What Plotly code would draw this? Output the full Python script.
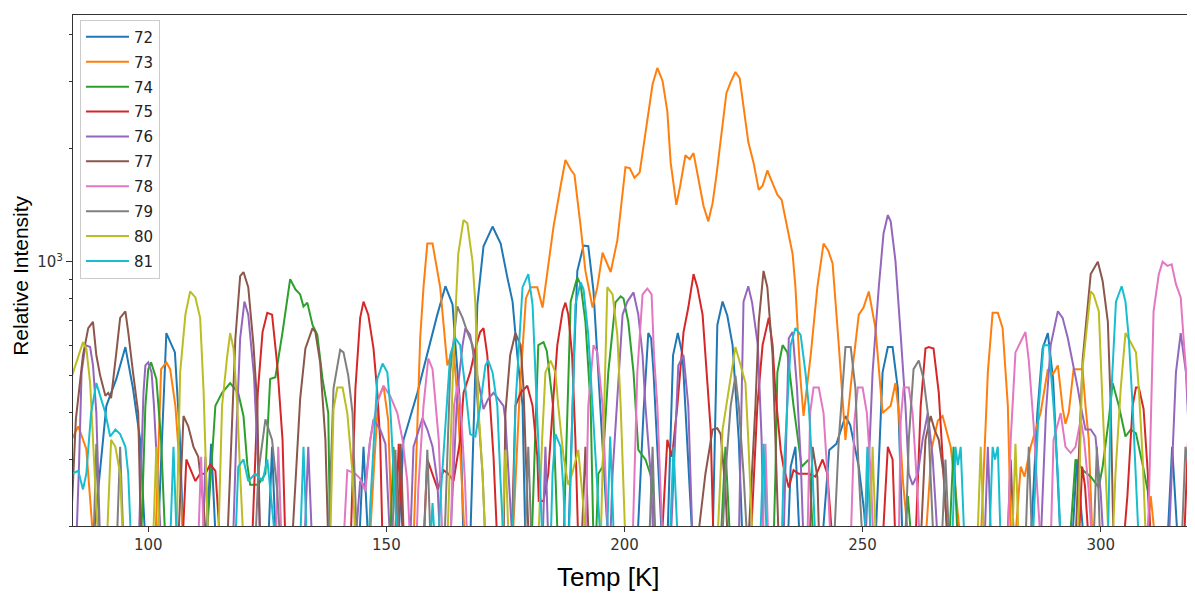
import math
import plotly.graph_objects as go

# ---- data: (temperature [K], relative intensity) ----
s72 = [(84, 180), (88.4, 180), (91.2, 416), (93.3, 490), (95.2, 595), (96.8, 462), (98.3, 338), (99.4, 180),
       (102, 180), (103.8, 648), (105.6, 576), (106.6, 350), (107.4, 180),
       (112.2, 180), (113.2, 330), (114.2, 180),
       (125.2, 180), (126, 324), (126.8, 180),
       (144.3, 180), (145.2, 324), (146.2, 180),
       (152.5, 180), (153.6, 338), (156.5, 450), (159.2, 613), (160.7, 725), (162.4, 862), (163.9, 771), (164.5, 602), (165.5, 416), (166.2, 180),
       (167.6, 180), (169.1, 771), (170.4, 1100), (172.3, 1240), (174, 1118), (175.4, 910), (176.5, 785), (177.5, 566), (178.6, 416), (179.2, 180),
       (188.2, 180), (189.5, 600), (190.1, 946), (191.4, 1104), (192.4, 1100), (193.5, 835), (194.5, 500), (196, 250), (196.6, 180),
       (202.7, 180), (204, 400), (205, 648), (205.6, 628), (206.1, 510), (207.9, 180),
       (209, 180), (210.2, 566), (211.2, 648), (212.2, 566), (214.3, 180),
       (218.5, 180), (219.5, 681), (220.6, 785), (221.6, 720), (222.7, 602), (224, 338), (224.8, 180),
       (234.3, 180), (234.9, 287), (235.9, 324), (236.8, 180),
       (241.5, 180), (243, 318), (244.5, 330), (246.4, 391), (247.4, 370), (249.2, 287), (250.3, 220), (250.8, 180),
       (252.7, 180), (254.2, 510), (255.3, 595), (256.3, 595), (257.4, 462), (258.4, 180),
       (285.3, 180), (286.7, 400), (287.8, 590), (288.9, 648), (290, 490), (291, 280), (291.6, 180),
       (294, 180), (295, 300), (296.5, 180),
       (314, 180), (315, 324), (316.2, 180),
       (318.5, 180), (320, 330)]

s73 = [(84, 340), (85.3, 367), (87, 320), (88.5, 180),
       (101.5, 180), (102.7, 520), (103.8, 542), (104.6, 520), (105.7, 416), (106.7, 275), (107.3, 180),
       (146.5, 180), (147.5, 300), (148.3, 434), (149.4, 470), (150.4, 380), (151.2, 180),
       (155.7, 180), (157.1, 628), (157.8, 857), (158.6, 1118), (159.7, 1118), (161.3, 857), (162.8, 532), (164.1, 590), (165, 420), (166.5, 180),
       (176.5, 180), (178, 450), (179.3, 800), (180.3, 857), (181.7, 857), (182.8, 757), (185.1, 1240), (186.6, 1590),
       (187.6, 1860), (188.7, 1755), (189.5, 1700), (190.8, 1240), (191.8, 946), (193.3, 757), (194.3, 857), (195.4, 1057),
       (197.1, 940), (198.5, 1140), (200.2, 1780), (201.1, 1770), (202.1, 1670), (203.2, 1725), (204.4, 2170), (205.9, 2950),
       (206.9, 3260), (208, 3010), (209, 2500), (209.7, 1830), (210.9, 1415), (211.7, 1590), (212.8, 1915), (213.7, 1870),
       (214.5, 1940), (215.5, 1650), (216.6, 1405), (217.6, 1280), (218.5, 1430), (219.3, 1690), (220.6, 2300), (221.4, 2795),
       (222.3, 2990), (223.3, 3180), (224.2, 3060), (225, 2550), (226, 2075), (227.1, 1830), (228.2, 1550), (229, 1590),
       (230, 1745), (231.3, 1590), (232.1, 1505), (233, 1460), (234.2, 1240), (235.3, 1050), (235.9, 857), (236.3, 681),
       (236.9, 500), (237.6, 391), (239.1, 566), (240.5, 857), (241.8, 1118), (242.8, 1070), (243.7, 990), (245, 602),
       (246.4, 338), (247.8, 510), (249.2, 725), (250.2, 757), (251.3, 835), (252.7, 668), (254.2, 398), (255.9, 416),
       (256.9, 478), (257.6, 400), (258.5, 260), (259.7, 180),
       (263.2, 180), (264.5, 320), (265.8, 380), (266.8, 391), (268.5, 324), (269.5, 250), (270.6, 180),
       (274.8, 180), (276.3, 510), (277.3, 733), (278.4, 733), (279.4, 668), (280.5, 416), (281.2, 180),
       (282, 180), (283.2, 287), (284, 270), (285.3, 324), (286.7, 373), (287.4, 400), (288.9, 520), (290, 505), (291, 532),
       (292, 410), (292.6, 373), (293.3, 400), (294.3, 520), (296.2, 520), (296.8, 416), (297.5, 338), (298.3, 180),
       (309.5, 180), (310.5, 240), (311.5, 180), (320, 180)]

s74 = [(84, 180), (98.5, 180), (99.4, 416), (100, 520), (100.6, 542), (101.7, 490), (102.7, 338), (103.6, 180),
       (112.2, 180), (114.1, 416), (115.5, 450), (117.2, 478), (118.9, 450), (120, 391), (120.8, 291), (121.4, 257),
       (123.1, 257), (124.6, 275), (125.6, 490), (126.7, 495), (128.2, 652), (129.8, 900), (130.9, 846), (131.9, 820),
       (132.6, 762), (133.4, 780), (134.5, 681), (135.5, 641), (136.6, 490), (137.8, 398), (138.2, 180),
       (150.8, 180), (151.5, 324), (152.3, 180),
       (180.5, 180), (180.9, 250), (181.9, 602), (183, 613), (183.7, 580), (185, 416), (186, 180),
       (187.2, 180), (188.7, 785), (190.1, 910), (190.8, 870), (191.8, 694), (192.9, 416), (193.5, 180),
       (194, 180), (194.5, 275), (195.4, 287), (196.6, 510), (198.1, 781), (199.2, 810), (199.8, 800), (200.8, 694),
       (201.9, 510), (202.9, 318), (204.4, 300), (205.9, 263), (206.5, 180),
       (220.2, 180), (221.2, 324), (222.2, 180),
       (231.3, 180), (231.7, 275), (232.1, 510), (233.2, 602), (234.2, 576), (235.5, 416), (236.6, 324), (237.2, 287),
       (238.7, 300), (239.7, 180),
       (258.8, 180), (259.5, 240), (260.3, 180),
       (268.2, 180), (269.1, 324), (270, 180),
       (293.5, 180), (294.7, 300), (296.4, 280), (297.9, 270), (299.6, 253), (300.4, 287), (301.7, 383), (302.5, 478),
       (303.8, 416), (305.2, 345), (306.3, 360), (307.4, 352), (308.8, 291), (309.9, 247), (310.5, 180), (320, 180)]

s75 = [(84, 180), (107.2, 180), (108, 300), (109.9, 263), (110.9, 275), (112, 275), (113, 291), (114.1, 280), (115.1, 180),
       (121.8, 180), (123, 450), (124, 652), (125, 733), (126, 725), (127.1, 532), (128.2, 338), (128.8, 180),
       (142.5, 180), (143.5, 462), (144.5, 711), (145.2, 785), (146.2, 725), (147.3, 590), (148.1, 450), (148.7, 338), (149.2, 180),
       (151.8, 180), (152.6, 330), (153.5, 180),
       (157.8, 180), (158.6, 300), (159.7, 275), (160.8, 250), (162, 281), (163, 275), (164.1, 263), (165.5, 338),
       (166.2, 450), (167.6, 510), (168.7, 590), (169.7, 652), (170.4, 668), (171.2, 566), (171.8, 416), (172.5, 305), (173.3, 180),
       (176.3, 180), (177.1, 416), (178.2, 450), (179.6, 470), (180.7, 416), (181.7, 305), (182, 233), (183, 233), (184, 275),
       (185.1, 442), (185.9, 602), (187, 740), (187.6, 780), (188.2, 725), (189, 566), (189.7, 338), (190.3, 180),
       (207.8, 180), (209, 338), (210, 305), (211.1, 416), (212.4, 652), (213.4, 757), (214.5, 928), (215.3, 857),
       (216.4, 725), (217, 553), (218.1, 360), (218.7, 180),
       (226.5, 180), (227.9, 416), (229, 602), (230.3, 711), (231.1, 602), (231.7, 450), (232.8, 318), (233.4, 287),
       (234.5, 253), (235.5, 281), (236.6, 275), (237.4, 275), (238.7, 275), (240.1, 270), (241.6, 300), (242.6, 275), (243.7, 180),
       (254.2, 180), (255.3, 324), (256.3, 300), (256.9, 180),
       (261.1, 180), (262.2, 416), (263.2, 590), (263.9, 595), (264.9, 590), (266, 450), (267, 275), (267.9, 180),
       (295.4, 180), (296.1, 287), (296.7, 255), (297.5, 180),
       (304.8, 180), (305.6, 240), (306.7, 416), (307.4, 465), (308, 465), (309, 408), (309.9, 275), (310.5, 180),
       (317.5, 180), (318.8, 450), (319.3, 694), (320, 760)]

s76 = [(84, 180), (84.9, 180), (85.5, 300), (86, 510), (86.8, 602), (87.8, 595), (88.4, 532), (89.1, 398), (89.9, 180),
       (98, 180), (99, 450), (99.4, 532), (100, 542), (100.7, 510), (101.2, 416), (102, 275), (102.7, 180),
       (111.5, 180), (112, 305), (112.6, 180),
       (117.8, 180), (118.5, 350), (119.3, 628), (120.2, 785), (121, 725), (122.2, 500), (123, 305), (123.5, 180),
       (132.8, 180), (133.6, 324), (134.4, 180),
       (143.5, 180), (144.5, 263), (145.6, 255), (146.5, 330), (147.3, 383), (148.7, 360), (149.8, 330), (150.8, 180),
       (155, 180), (155.7, 324), (157.6, 386), (158.6, 360), (159.7, 324), (160.7, 263), (161.3, 180),
       (163.4, 180), (164.9, 450), (166, 602), (166.6, 668), (167.6, 641), (168.7, 532), (169.7, 450), (170.4, 408),
       (171.4, 434), (172.5, 450), (173.5, 434), (174.6, 416), (175, 380), (175.6, 275), (176.5, 180),
       (182.8, 180), (183.4, 324), (184, 180),
       (197, 180), (197.5, 275), (198.5, 450), (199.6, 725), (200.6, 785), (201.9, 830), (202.9, 725), (203.8, 566),
       (204.4, 416), (205.5, 275), (206.1, 180),
       (209.7, 180), (211.3, 532), (212.4, 566), (213.4, 416), (214.3, 180),
       (224, 180), (225, 785), (226, 862), (226.8, 780), (228, 602), (228.8, 338), (229.2, 180),
       (233.4, 180), (234.5, 628), (235.3, 652), (236.2, 470), (237, 300), (237.6, 180),
       (250.6, 180), (252.1, 510), (253.4, 857), (254.4, 1189), (255.3, 1330), (255.9, 1280), (256.9, 1006), (258, 641),
       (259, 416), (259.7, 275), (260.5, 257), (261.6, 275), (262.6, 338), (263.7, 398), (264.7, 305), (265.3, 230), (265.8, 180),
       (275.6, 180), (276.3, 324), (277, 180),
       (287.4, 180), (288.5, 400), (289.5, 602), (291, 740), (292, 711), (293.1, 628), (294.1, 548), (295.2, 462),
       (295.8, 416), (296.8, 360), (297.9, 360), (298.9, 345), (300, 245), (300.6, 180),
       (314.3, 180), (315.8, 510), (316.8, 648), (317.9, 510), (318.9, 275), (319.5, 180), (320, 180)]

s77 = [(84, 230), (84.8, 383), (86.3, 566), (87.4, 668), (88.4, 694), (89.1, 566), (89.9, 500), (91, 442), (91.6, 450),
       (92.2, 436), (93.3, 576), (94.1, 711), (95.2, 740), (95.8, 652), (96.8, 510), (97.9, 398), (98.5, 180),
       (106.3, 180), (107.4, 391), (108.4, 367), (109.5, 324), (110.5, 305), (111.6, 228), (112.2, 180),
       (116.6, 180), (118.3, 628), (119.3, 917), (120, 940), (121, 857), (122.1, 602), (122.9, 416), (123.5, 180),
       (130.2, 180), (131.9, 434), (133, 590), (134.5, 668), (135.1, 652), (136.1, 542), (137.2, 338), (137.8, 180),
       (152.3, 180), (153, 330), (153.7, 180),
       (174.6, 180), (175, 398), (176, 566), (177.1, 648), (178.2, 602), (178.8, 462), (179.6, 224), (179.9, 180),
       (191, 180), (191.8, 324), (192.5, 180),
       (215.3, 180), (217, 275), (218.5, 360), (219.5, 363), (220.2, 350), (221.2, 250), (221.7, 180),
       (226, 180), (227.5, 416), (228.2, 694), (229.2, 946), (230, 857), (231.1, 566), (231.7, 338), (232.4, 180),
       (238.9, 180), (239.5, 324), (240.5, 270), (240.9, 180),
       (262.2, 180), (263.2, 338), (264.3, 391), (265.1, 360), (266, 338), (267, 275), (267.9, 180),
       (280.4, 180), (281.1, 300), (281.8, 180),
       (294.7, 180), (295.8, 416), (296.2, 550), (297.9, 928), (299.4, 1000), (300.4, 890), (301.5, 694), (302.1, 416),
       (302.7, 180), (320, 180)]

s78 = [(84, 180), (110.5, 180), (111.1, 305), (111.7, 180),
       (126.8, 180), (127.3, 324), (128, 180),
       (141, 180), (141.8, 281), (143.5, 275), (144.5, 267), (145.6, 247), (146.6, 338), (148.1, 424), (149.4, 470),
       (150.8, 442), (152.3, 398), (153.4, 338), (154.4, 263), (155, 180),
       (156.3, 180), (156.7, 250), (157.8, 416), (158.8, 555), (159.7, 520), (160.3, 416), (161, 338), (161.8, 180),
       (163.5, 180), (164.2, 416), (164.9, 470), (165.6, 416), (166.5, 263), (167, 180),
       (191.8, 180), (192.4, 416), (193.5, 602), (194.3, 576), (195.4, 416), (196, 275), (196.6, 180),
       (201.7, 180), (202.3, 338), (202.7, 510), (203.8, 820), (204.8, 850), (205.7, 820), (206.2, 566), (206.9, 416),
       (207.6, 250), (208, 180),
       (229, 180), (229.6, 330), (230.2, 180),
       (238.4, 180), (239, 400), (239.7, 465), (240.8, 465), (241.8, 398), (242.6, 275), (243.3, 180),
       (247.5, 180), (248.3, 380), (249, 465), (250, 465), (250.9, 398), (251.7, 275), (252.3, 180),
       (257.6, 180), (258, 380), (258.6, 465), (259.7, 465), (260.5, 398), (261.5, 250), (262, 180),
       (280.5, 180), (281.1, 338), (282.1, 576), (284.2, 652), (284.9, 548), (285.9, 373), (286.7, 247), (287.4, 180),
       (289.5, 180), (290.1, 338), (291.6, 398), (292.6, 324), (293.7, 312), (294.7, 324), (295.8, 383), (296.5, 340),
       (297.5, 247), (298.2, 180),
       (309.9, 180), (311.1, 740), (312.2, 928), (313, 1000), (314, 976), (314.9, 985), (315.8, 873), (316.8, 805),
       (317.4, 628), (318.5, 416), (319.5, 275), (320.2, 180)]

s79 = [(84, 180), (88.5, 180), (89.1, 330), (89.8, 180),
       (93.4, 180), (94.1, 324), (94.8, 180),
       (122.5, 180), (123.1, 275), (124.6, 383), (126, 338), (127.1, 247), (127.7, 180),
       (137.8, 180), (138.9, 462), (140.3, 585), (141, 576), (142, 500), (142.9, 398), (143.5, 224), (143.8, 180),
       (151.2, 180), (151.9, 318), (152.6, 180),
       (157.9, 180), (158.6, 318), (159.3, 180),
       (162.2, 180), (163.4, 510), (164.9, 762), (166, 711), (167, 652), (168.1, 602), (168.7, 510), (169.3, 398),
       (170.2, 275), (170.8, 180),
       (179.1, 180), (179.8, 324), (180.5, 180),
       (205.2, 180), (205.9, 324), (206.5, 180),
       (220.5, 180), (221.2, 275), (222.3, 416), (223.3, 500), (224, 416), (225, 275), (225.8, 180),
       (244, 180), (245, 338), (246.4, 595), (247.5, 595), (248.5, 462), (249.2, 275), (250, 180),
       (259, 180), (259.7, 338), (260.7, 520), (261.8, 548), (262.8, 490), (263.7, 398), (264.3, 275), (264.9, 180),
       (266.6, 180), (267.4, 300), (268.2, 180),
       (284.2, 180), (284.9, 324), (285.6, 180),
       (298.5, 180), (299.2, 324), (299.9, 180),
       (317, 180), (317.8, 324), (318.7, 275), (319.5, 300), (320, 270)]

s80 = [(84, 500), (85.3, 566), (86.3, 613), (87, 590), (87.8, 478), (88.4, 338), (89.1, 224), (89.5, 180),
       (91.3, 180), (92.2, 338), (93.1, 324), (94.1, 275), (94.7, 180),
       (101, 180), (101.7, 324), (102.4, 180),
       (105.9, 180), (106.7, 510), (107.8, 725), (108.8, 835), (109.9, 805), (110.9, 711), (111.6, 462), (112.2, 275), (112.6, 180),
       (114.7, 180), (115.5, 416), (116.6, 566), (117.2, 648), (117.9, 590), (118.7, 416), (119.3, 275), (120, 180),
       (138.2, 180), (138.9, 407), (139.7, 465), (140.8, 465), (141.8, 398), (142.9, 275), (143.5, 180),
       (162.8, 180), (164.1, 566), (165.1, 1051), (166.2, 1290), (167, 1265), (168.1, 1000), (168.7, 771), (169.3, 416),
       (170.2, 275), (170.8, 180),
       (174.3, 180), (175, 318), (175.7, 180),
       (181.9, 180), (182.7, 338), (183.4, 510), (184.5, 548), (185.5, 510), (186.1, 416), (187.2, 305), (188.2, 257),
       (189, 275), (190.3, 318), (191.4, 224), (191.8, 180),
       (195, 180), (195.4, 275), (196.4, 857), (197.5, 820), (198.5, 641), (199.2, 416), (199.8, 230), (200.2, 180),
       (219.5, 180), (220.6, 360), (221.8, 450), (223.3, 595), (224.4, 532), (225.4, 478), (226, 338), (226.9, 180),
       (251.5, 180), (252.1, 324), (252.8, 180),
       (274.1, 180), (274.8, 324), (275.5, 180),
       (281.4, 180), (282.1, 330), (282.8, 180),
       (295.2, 180), (296.1, 510), (297.9, 835), (298.5, 820), (299.6, 740), (300.4, 416), (301.1, 247), (301.7, 180),
       (302.5, 180), (303.1, 275), (304.2, 462), (305.2, 648), (306.3, 613), (307.4, 576), (308, 462), (308.8, 305),
       (309.5, 180), (320, 180)]

s81 = [(84, 275), (85.3, 280), (86.3, 250), (87, 275), (88, 398), (89.1, 478), (90.1, 434), (91, 398), (92, 345),
       (93.1, 360), (94.1, 350), (95.2, 324), (95.8, 275), (96.4, 180),
       (104.6, 180), (105.3, 324), (106, 180),
       (118.3, 180), (118.9, 287), (120, 300), (121, 263), (122.5, 275), (124, 263), (125, 300), (126, 224), (126.7, 180),
       (131.9, 180), (132.6, 324), (133.3, 180),
       (146.3, 180), (146.6, 224), (148.1, 490), (149.2, 538), (150.2, 510), (150.8, 416), (151.5, 275), (152.3, 180),
       (159.2, 180), (159.7, 230), (160.2, 180),
       (160.9, 180), (161.3, 230), (163.4, 566), (164.5, 628), (165.5, 602), (166.6, 462), (167.6, 350), (168.7, 345),
       (169.7, 416), (170.8, 532), (171.4, 548), (172.3, 510), (173.3, 416), (173.9, 275), (174.6, 180),
       (176.5, 180), (177.1, 416), (178.6, 857), (179.8, 928), (180.7, 771), (181.3, 510), (181.9, 305), (182.8, 180),
       (184.5, 180), (184.9, 275), (185.5, 350), (186.6, 324), (187.2, 247), (187.6, 180),
       (188.3, 180), (188.7, 275), (189.7, 771), (190.8, 883), (191.4, 846), (192.4, 641), (193.3, 416), (194.3, 275), (195, 180),
       (196.3, 180), (197, 345), (197.8, 180),
       (209.5, 180), (210.3, 324), (211.2, 180),
       (228.5, 180), (229.2, 330), (229.9, 180),
       (233, 180), (233.4, 275), (234.9, 602), (235.9, 668), (237, 640), (238, 510), (238.7, 416), (239.5, 275), (240.1, 180),
       (250.4, 180), (251, 324), (251.7, 180),
       (268.8, 180), (269.5, 324), (270, 290), (270.6, 324), (271.4, 180),
       (276.6, 180), (277.3, 324), (277.8, 300), (278.4, 324), (279, 180),
       (285.7, 180), (287, 416), (288, 602), (289.1, 602), (290.1, 416), (291, 275), (291.6, 180),
       (301.5, 180), (302.1, 416), (303.2, 785), (304.4, 862), (305.2, 785), (305.9, 628), (306.7, 416), (307.4, 275),
       (308, 180), (320, 180)]

series_names = ["72", "73", "74", "75", "76", "77", "78", "79", "80", "81"]
series_data = [s72, s73, s74, s75, s76, s77, s78, s79, s80, s81]
colors = ["#1f77b4", "#ff7f0e", "#2ca02c", "#d62728", "#9467bd",
          "#8c564b", "#e377c2", "#7f7f7f", "#bcbd22", "#17becf"]

x_ticks = [100, 150, 200, 250, 300]
y_major = [1000]
y_major_text = ["10<sup>3</sup>"]
y_minor = [200, 300, 400, 500, 600, 700, 800, 900, 2000, 3000, 4000]
x_range = [84.2, 319.8]
y_range = [200, 4500]

fig = go.Figure()
for name, pts, col in zip(series_names, series_data, colors):
    fig.add_trace(go.Scatter(
        x=[p[0] for p in pts], y=[p[1] for p in pts],
        mode="lines", name=name, legendgroup=name,
        line=dict(color=col, width=2),
    ))

axis_col = "#333333"
# the page body has an 8px default margin, so the figure is 8px smaller than the window
fig.update_layout(
    width=1187, height=585,
    margin=dict(l=65, r=0, t=7, b=67),
    paper_bgcolor="white", plot_bgcolor="white",
    showlegend=True,
    legend=dict(x=0.0062, y=0.991, xanchor="left", yanchor="top",
                bgcolor="rgba(255,255,255,0.85)", bordercolor="#cccccc", borderwidth=1,
                font=dict(family="DejaVu Sans", size=15, color="#222222"),
                tracegroupgap=2.4, itemwidth=43),
    xaxis=dict(range=x_range, tickmode="array", tickvals=x_ticks,
               ticks="outside", ticklen=5, tickwidth=1, tickcolor=axis_col,
               showline=True, linecolor=axis_col, linewidth=1, mirror=True,
               showgrid=False, zeroline=False,
               tickfont=dict(family="DejaVu Sans", size=15, color="#333333")),
    yaxis=dict(type="log", range=[math.log10(y_range[0]), math.log10(y_range[1])],
               tickmode="array", tickvals=y_major, ticktext=y_major_text,
               ticks="outside", ticklen=6, tickwidth=1, tickcolor=axis_col,
               minor=dict(tickmode="array", tickvals=y_minor, ticks="outside", ticklen=3,
                          tickwidth=1, tickcolor=axis_col, showgrid=False),
               showline=True, linecolor=axis_col, linewidth=1, mirror=False,
               showgrid=False, zeroline=False,
               tickfont=dict(family="DejaVu Sans", size=15, color="#333333")),
    annotations=[
        dict(text="Temp [K]", xref="paper", yref="paper", x=0.4777, y=-0.100,
             xanchor="center", yanchor="middle", showarrow=False,
             font=dict(family="Liberation Sans", size=26, color="black")),
        dict(text="Relative Intensity", xref="paper", yref="paper", x=-0.0475, y=0.489,
             xanchor="center", yanchor="middle", textangle=-90, showarrow=False,
             font=dict(family="Liberation Sans", size=21, color="black")),
    ],
)

fig.write_html("out.html")
